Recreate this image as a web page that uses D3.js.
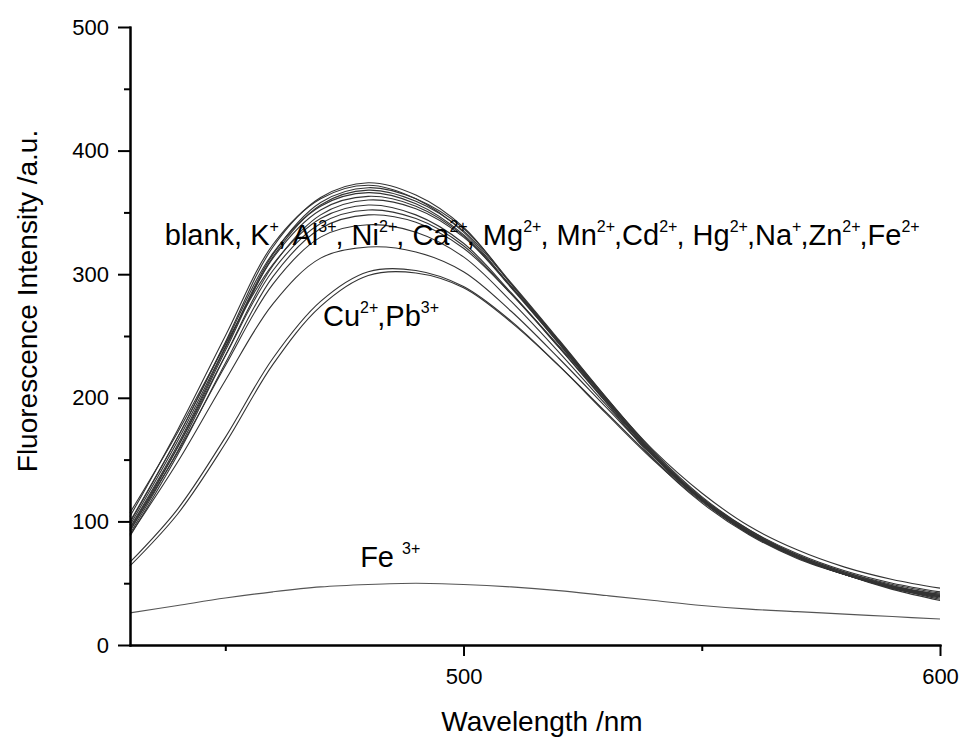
<!DOCTYPE html>
<meta charset="utf-8">
<style>
body{ margin:0; background:#fff; }
svg text{ font-family:Arial, "Liberation Sans", sans-serif; fill:#000; }
.spec{ fill:none; stroke:#333; stroke-width:1.1; }
.axis path, .axis line{ stroke:#000; stroke-width:2px; }
.axis text{ font-size:22px; }
</style>
<body>
<script src="https://cdn.jsdelivr.net/npm/d3@7/dist/d3.min.js"></script>
<script>
// emission wavelengths (nm)
var wavelengths = [430,440,450,460,470,480,490,500,510,520,530,540,550,560,570,580,590,600];

// intensity, one array per added ion
var blank = [ 99,168,245,322,362,374,364,338,292,246,198,152,117, 90, 71, 57, 47, 40];
var kIon  = [104,174,250,324,361,372,361,334,290,244,196,150,115, 89, 70, 57, 47, 41];
var alIon = [ 95,162,240,316,358,370,361,337,293,247,200,155,119, 92, 73, 59, 49, 42];
var niIon = [ 92,160,238,314,356,368,359,335,292,246,199,154,118, 91, 72, 58, 48, 41];
var caIon = [100,168,244,317,355,366,357,332,290,245,198,153,117, 90, 71, 57, 46, 39];
var mgIon = [ 97,165,241,313,352,363,355,331,289,244,198,154,118, 91, 71, 57, 46, 38];
var mnIon = [ 90,157,234,307,348,360,353,330,290,246,200,156,120, 93, 73, 59, 48, 40];
var cdIon = [107,172,243,308,345,356,348,325,285,241,196,153,118, 91, 72, 58, 47, 39];
var hgIon = [ 94,160,234,303,341,352,345,323,284,241,197,154,119, 93, 74, 60, 50, 43];
var naIon = [ 88,154,228,298,337,348,342,321,284,242,199,157,123, 96, 77, 63, 53, 46];
var znIon = [ 93,156,226,292,330,340,334,314,278,237,194,152,117, 90, 71, 57, 46, 37];
var fe2Ion= [ 89,148,214,276,313,322,318,302,270,232,192,152,118, 92, 72, 57, 45, 36];
var cuIon = [ 67,110,168,232,278,302,303,290,262,226,187,149,116, 90, 71, 57, 46, 39];
var pbIon = [ 64,106,163,227,274,299,301,289,261,226,188,150,117, 91, 72, 58, 47, 40];
var fe3Ion= [ 26, 32, 38, 43, 47, 49, 50, 49, 47, 44, 40, 36, 32, 29, 27, 25, 23, 21];

var series = [blank,kIon,alIon,niIon,caIon,mgIon,mnIon,cdIon,hgIon,naIon,znIon,fe2Ion,cuIon,pbIon,fe3Ion];

var yMajor = [0,100,200,300,400,500], yMinor = [50,150,250,350,450];
var xMajor = [500,600], xMinor = [450,550];

// labels: [symbol, charge, separator]
var groupLabel = [["blank","",", "],["K","+",", "],["Al","3+",", "],["Ni","2+",", "],["Ca","2+",", "],
  ["Mg","2+",", "],["Mn","2+",","],["Cd","2+",", "],["Hg","2+",","],["Na","+",","],["Zn","2+",","],["Fe","2+",""]];
var cuPbLabel = [["Cu","2+",","],["Pb","3+",""]];
var fe3Label = [["Fe ","3+",""]];

var W=965, H=738, m={l:130, r:25, t:27, b:93};

var svg = d3.select("body").append("svg").attr("width",W).attr("height",H);

var x = d3.scaleLinear().domain([430,600]).range([m.l, W-m.r]);
var y = d3.scaleLinear().domain([0,500]).range([H-m.b, m.t]);

var line = d3.line()
  .x(function(d,i){ return x(wavelengths[i]); })
  .y(function(d){ return y(d); })
  .curve(d3.curveCatmullRom);

svg.append("g").selectAll("path").data(series).enter().append("path")
  .attr("class","spec")
  .style("stroke", function(d,i){ return i==14 ? "#555" : null; })
  .attr("d", line);

// axes
svg.append("g").attr("class","axis")
  .attr("transform","translate(0,"+(H-m.b)+")")
  .call(d3.axisBottom(x).tickValues(xMinor).tickSize(6).tickSizeOuter(0).tickFormat(""));
svg.append("g").attr("class","axis")
  .attr("transform","translate(0,"+(H-m.b)+")")
  .call(d3.axisBottom(x).tickValues(xMajor).tickSize(11).tickSizeOuter(0).tickPadding(12).tickFormat(d3.format("d")));
svg.append("g").attr("class","axis")
  .attr("transform","translate("+m.l+",0)")
  .call(d3.axisLeft(y).tickValues(yMinor).tickSize(6).tickSizeOuter(0).tickFormat(""));
svg.append("g").attr("class","axis")
  .attr("transform","translate("+m.l+",0)")
  .call(d3.axisLeft(y).tickValues(yMajor).tickSize(12).tickSizeOuter(0).tickPadding(9).tickFormat(d3.format("d")));

svg.selectAll(".axis .domain").attr("stroke-linecap","square");

// axis titles
svg.append("text")
  .attr("transform","translate(37,"+((m.t+H-m.b)/2-35)+") rotate(-90)")
  .attr("text-anchor","middle").style("font-size","28px")
  .text("Fluorescence Intensity /a.u.");
svg.append("text")
  .attr("x", 542).attr("y", 731)
  .attr("text-anchor","middle").style("font-size","28px")
  .text("Wavelength /nm");

// ion labels
function ionText(parts, wl, val){
  var t = svg.append("text").attr("x", x(wl)).attr("y", y(val)).style("font-size","29px");
  parts.forEach(function(p){
    t.append("tspan").text(p[0]);
    if(p[1]){
      t.append("tspan").attr("dy",-13).style("font-size","16px").text(p[1]);
      t.append("tspan").attr("dy",13).attr("dx",-1).text(p[2]);
    } else t.append("tspan").text(p[2]);
  });
}
ionText(groupLabel, 437.3, 324);
ionText(cuPbLabel, 470.5, 258);
ionText(fe3Label, 478.3, 63);
</script>
</body>
